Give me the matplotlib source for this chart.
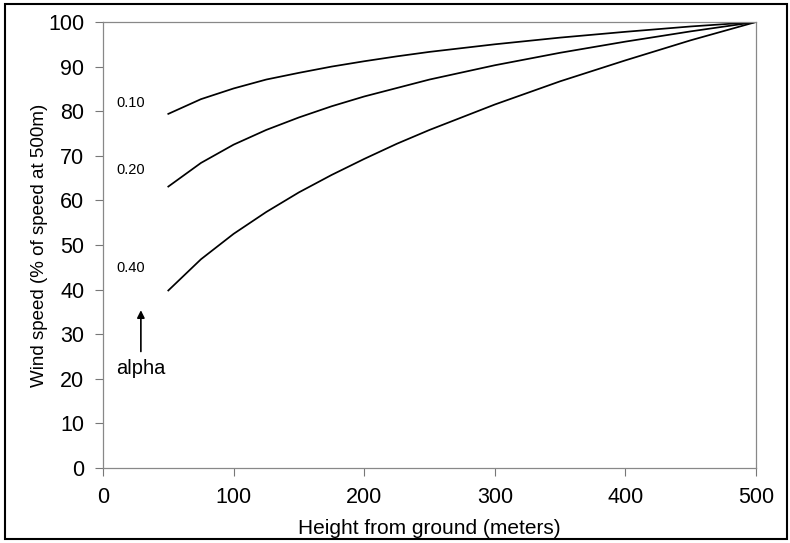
import matplotlib.pyplot as plt
from matplotlib.patches import Rectangle

plt.rcParams['font.family'] = ['Liberation Sans', 'DejaVu Sans']

# data
height = [50, 75, 100, 125, 150, 175, 200, 225, 250, 300, 350, 400, 450, 500]
alpha_labels = ['0.10', '0.20', '0.40']
speed_010 = [79.4, 82.7, 85.1, 87.1, 88.6, 90.0, 91.2, 92.3, 93.3,
             95.0, 96.5, 97.8, 99.0, 100.0]
speed_020 = [63.1, 68.4, 72.5, 75.8, 78.6, 81.1, 83.3, 85.2, 87.1,
             90.3, 93.1, 95.6, 97.9, 100.0]
speed_040 = [39.8, 46.8, 52.5, 57.4, 61.8, 65.7, 69.3, 72.7, 75.8,
             81.5, 86.7, 91.4, 95.9, 100.0]
label_y = [81.8, 66.8, 44.8]

fig = plt.figure(figsize=(7.9, 5.43), dpi=100)
ax = fig.add_axes([103 / 790, 1 - 468 / 543, 653 / 790, 446 / 543])

for s in (speed_010, speed_020, speed_040):
    ax.plot(height, s, color='black', lw=1.25, solid_joinstyle='round')

for lab, y in zip(alpha_labels, label_y):
    ax.text(21, y, lab, fontsize=10.5, ha='center', va='center')

# arrow pointing at the alpha labels
ax.annotate('', xy=(29, 36.0), xytext=(29, 25.5),
            arrowprops=dict(arrowstyle='-|>', color='black', lw=1.2,
                            mutation_scale=11))
ax.text(29, 22.4, 'alpha', fontsize=14.5, ha='center', va='center')

ax.set_xlim(0, 500)
ax.set_ylim(0, 100)
ax.set_xticks(range(0, 501, 100))
ax.set_yticks(range(0, 101, 10))
ax.tick_params(direction='out', length=6, width=0.8, color='#777777',
               labelsize=15.5)
ax.tick_params(axis='y', pad=7.5)
ax.tick_params(axis='x', pad=7.5)
for sp in ax.spines.values():
    sp.set_color('#888888')
    sp.set_linewidth(0.9)

ax.set_xlabel('Height from ground (meters)', fontsize=15, labelpad=8)
ax.set_ylabel('Wind speed (% of speed at 500m)', fontsize=13.5, labelpad=0)

# outer frame around the whole picture
fig.patches.append(Rectangle((5 / 790, 4 / 543), 782 / 790, 535 / 543,
                             transform=fig.transFigure, fill=False,
                             edgecolor='black', lw=1.5))

fig.savefig('out.png', dpi=100, facecolor='white')
